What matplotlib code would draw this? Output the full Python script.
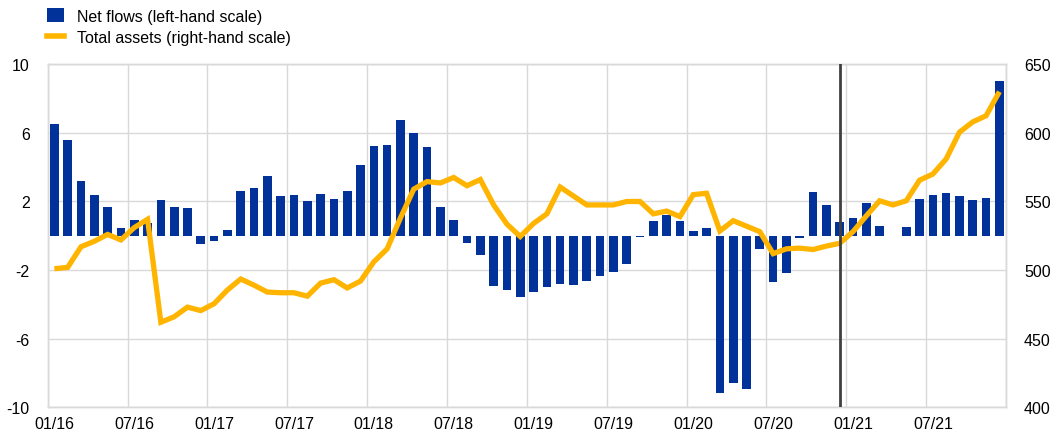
import matplotlib
matplotlib.use("Agg")
import matplotlib.pyplot as plt
from matplotlib.patches import Patch
from matplotlib.lines import Line2D
import numpy as np

plt.rcParams['font.family'] = ['Liberation Sans', 'DejaVu Sans']
plt.rcParams['axes.unicode_minus'] = False

# Monthly periods, 01/16 to 12/21
months = [f"{m:02d}/{y:02d}" for y in range(16, 22) for m in range(1, 13)]

# Net flows (left-hand scale)
net_flows = [
    6.5, 5.6, 3.2, 2.4, 1.7, 0.45, 0.9, 0.75, 2.1, 1.7, 1.6, -0.5,
    -0.3, 0.33, 2.6, 2.8, 3.5, 2.3, 2.4, 2.05, 2.45, 2.15, 2.6, 4.1,
    5.25, 5.3, 6.75, 6.0, 5.15, 1.7, 0.9, -0.43, -1.13, -2.95, -3.15, -3.57,
    -3.25, -3.0, -2.83, -2.87, -2.63, -2.36, -2.1, -1.67, -0.05, 0.88, 1.24, 0.86,
    0.27, 0.47, -9.15, -8.6, -8.95, -0.78, -2.7, -2.17, -0.1, 2.55, 1.82, 0.82,
    1.04, 1.9, 0.57, -0.03, 0.49, 2.16, 2.39, 2.47, 2.33, 2.06, 2.2, 9.05,
]

# Total assets (right-hand scale)
total_assets = [
    501, 502, 517, 521, 526, 522, 531, 537, 462, 466, 473, 470.5,
    475.5, 485.5, 493.5, 489, 484, 483.5, 483.5, 481, 490.5, 493, 487, 492,
    506, 515.5, 538, 559, 564.5, 563.5, 567.5, 561.5, 566, 547.5, 533.5, 524.5,
    534, 541, 560.5, 554, 547.5, 547.5, 547.5, 550, 550, 541, 543, 539,
    555, 556, 528.5, 536, 532, 528, 512, 515.5, 516, 515, 517.5, 519.5,
    528, 539.5, 550.5, 547.5, 550.5, 565.5, 570, 581, 600.5, 608, 612.5, 630,
]

left_ticks = [-10, -6, -2, 2, 6, 10]
right_ticks = [400, 450, 500, 550, 600, 650]
marker_month = "12/20"

bar_color = "#003299"
line_color = "#FFB400"
grid_color = "#d9d9d9"

fig = plt.figure(figsize=(10.56, 4.39), dpi=100)
ax = fig.add_axes([0.0452, 0.0699, 0.9075, 0.7814])
ax2 = ax.twinx()

x = np.arange(len(months))
ax.bar(x, net_flows, width=0.65, color=bar_color, zorder=2)

ax2.plot(x, total_assets, color=line_color, lw=3.8, solid_joinstyle="miter",
         solid_capstyle="butt", zorder=3)
ax2.axvline(months.index(marker_month), color="#404040", lw=2, zorder=4)

ax.set_xlim(-0.5, len(months) - 0.5)
ax.set_ylim(-10, 10)
ax2.set_ylim(400, 650)
ax.set_yticks(left_ticks)
ax2.set_yticks(right_ticks)

ax.set_xticks(x[::6])
ax.set_xticklabels(months[::6])
ax.set_xticks(np.arange(-0.5, len(months), 6), minor=True)

ax.grid(False)
ax.grid(axis="y", which="major", color=grid_color, lw=1, zorder=0)
ax.grid(axis="x", which="minor", color=grid_color, lw=1, zorder=0)
ax.set_axisbelow(True)

for a in (ax, ax2):
    for s in a.spines.values():
        s.set_color(grid_color)
        s.set_linewidth(1)
    a.tick_params(which="both", length=0, labelsize=11.5, colors="#000000")
ax.tick_params(axis="y", pad=13)
ax2.tick_params(axis="y", pad=13)
ax.tick_params(axis="x", pad=6)

handles = [
    Patch(facecolor=bar_color, edgecolor="none"),
    Line2D([0], [0], color=line_color, lw=4),
]
labels = ["Net flows (left-hand scale)", "Total assets (right-hand scale)"]
fig.legend(handles, labels, loc="upper left", bbox_to_anchor=(0.038, 0.994),
           frameon=False, fontsize=11.5, handlelength=1.1, handleheight=1.0,
           handletextpad=0.8, labelspacing=0.35, borderaxespad=0)

fig.savefig("out.png", dpi=100)
